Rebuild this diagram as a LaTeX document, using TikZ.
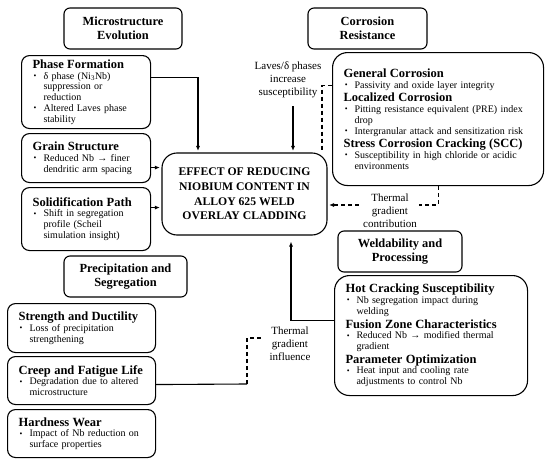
\documentclass[tikz,border=0pt]{standalone}
\usepackage{fontspec}
\setmainfont{Liberation Serif}
\usetikzlibrary{arrows.meta}

\newcommand{\hd}[1]{{\leftskip=3pt\noindent\fontsize{12.5}{13.5}\selectfont\bfseries #1\par}}
\newcommand{\bitem}[1]{{\leftskip=14pt\noindent\llap{\raisebox{0.8pt}{\footnotesize\textbullet}\hspace{7pt}}#1\par}}

\begin{document}
\begin{tikzpicture}[
    x=1pt, y=-1pt,
    catbox/.style={
        draw=black,
        line width=1.1pt,
        rounded corners=6pt,
        minimum height=41pt,
        align=center,
        font=\fontsize{12.4}{14}\selectfont\bfseries
    },
    infobox/.style={
        draw=black,
        line width=1.1pt,
        rounded corners=8pt,
        anchor=north west,
        align=left,
        inner xsep=8pt,
        inner ysep=2pt,
        font=\fontsize{10}{10.8}\selectfont
    },
    mainbox/.style={
        draw=black,
        line width=1.1pt,
        rounded corners=15pt,
        minimum width=165pt,
        minimum height=82pt,
        align=center,
        font=\fontsize{11.7}{14.7}\selectfont\bfseries
    },
    note/.style={align=center, inner sep=2pt, font=\fontsize{11}{13}\selectfont},
    arrow/.style={-{Latex[length=5pt,width=4pt]}, line width=1.1pt, shorten >=1.5pt},
    dashline/.style={line width=1.1pt, dash pattern=on 4pt off 3pt},
    dasharrow/.style={dashline, -{Latex[length=5pt,width=4pt]}, shorten >=1.5pt}
]
\useasboundingbox (0,0) rectangle (550,463);

% Category boxes
\node[catbox, minimum width=118pt] (micro) at (123,28.5) {Microstructure\\Evolution};
\node[catbox, minimum width=119pt] (corrcat) at (367.5,28.5) {Corrosion\\Resistance};
\node[catbox, minimum width=123pt] (precip) at (125.5,276.5) {Precipitation and\\Segregation};
\node[catbox, minimum width=124pt] (weldcat) at (400,251.5) {Weldability and\\Processing};

% Central box
\node[mainbox] (centre) at (244.5,194) {EFFECT OF REDUCING\\NIOBIUM CONTENT IN\\ALLOY 625 WELD\\OVERLAY CLADDING};

% Microstructure details
\node[infobox, text width=113pt, minimum height=73pt] (phase) at (21,55) {%
    \hd{Phase Formation}
    \bitem{δ phase (Ni\textsubscript{3}Nb)\\suppression or\\reduction}
    \bitem{Altered Laves phase\\stability}};
\node[infobox, text width=113pt, minimum height=49pt] (grain) at (21,133) {%
    \hd{Grain Structure}
    \bitem{Reduced Nb → finer\\dendritic arm spacing}};
\node[infobox, text width=113pt, minimum height=63pt] (solid) at (21,187) {%
    \hd{Solidification Path}
    \bitem{Shift in segregation\\profile (Scheil\\simulation insight)}};

% Precipitation details
\node[infobox, text width=132pt, minimum height=49pt] (strength) at (7,303) {%
    \hd{Strength and Ductility}
    \bitem{Loss of precipitation\\strengthening}};
\node[infobox, text width=132pt, minimum height=48pt] (creep) at (7,356) {%
    \hd{Creep and Fatigue Life}
    \bitem{Degradation due to altered\\microstructure}};
\node[infobox, text width=132pt, minimum height=48pt] (hardness) at (7,409) {%
    \hd{Hardness Wear}
    \bitem{Impact of Nb reduction on\\surface properties}};

% Corrosion details
\node[infobox, rounded corners=15pt, text width=195pt, minimum height=133pt] (corr) at (332,52) {%
    \hd{General Corrosion}
    \bitem{Passivity and oxide layer integrity}
    \hd{Localized Corrosion}
    \bitem{Pitting resistance equivalent (PRE) index\\drop}
    \bitem{Intergranular attack and sensitization risk}
    \hd{Stress Corrosion Cracking (SCC)}
    \bitem{Susceptibility in high chloride or acidic\\environments}};

% Weldability details
\node[infobox, rounded corners=15pt, text width=177pt, minimum height=120pt] (weld) at (334,275) {%
    \hd{Hot Cracking Susceptibility}
    \bitem{Nb segregation impact during\\welding}
    \hd{Fusion Zone Characteristics}
    \bitem{Reduced Nb → modified thermal\\gradient}
    \hd{Parameter Optimization}
    \bitem{Heat input and cooling rate\\adjustments to control Nb}};

% Labels
\node[note] (laves) at (288,80) {Laves/δ phases\\increase\\susceptibility};
\node[note] (influence) at (290,344) {Thermal\\gradient\\influence};

% Arrows
\coordinate (pf) at ([yshift=14.5pt]phase.east);
\draw[arrow] (pf) -| ([xshift=-46.5pt]centre.north);
\coordinate (gs) at ([yshift=-9.5pt]grain.east);
\draw[arrow] (gs) -- (gs -| centre.west);
\coordinate (sp) at ([yshift=11.5pt]solid.east);
\draw[arrow] (sp) -- (sp -| centre.west);
\coordinate (lv) at ([xshift=5pt,yshift=-6pt]laves.south);
\draw[arrow] (lv) -- (lv |- centre.north);
\draw[dashline] ([yshift=33.5pt]corr.west) -| ([xshift=77.5pt]centre.north);
\draw[dasharrow] (corr.south) |- ([yshift=-11pt]centre.east);
\draw[arrow, shorten >=6pt] ([yshift=15pt]weld.west) -| ([xshift=46.5pt]centre.south);
\coordinate (cf) at ([yshift=-4pt]creep.east);
\coordinate (bend) at (247,384);
\draw[line width=1.1pt] (cf) -- (bend);
\draw[dashline, shorten >=5pt] (bend) |- ([yshift=6pt]influence.west);

% Label over dashed line
\node[note, fill=white] (contrib) at (390,210.5) {Thermal\\gradient\\contribution};

\end{tikzpicture}
\end{document}
